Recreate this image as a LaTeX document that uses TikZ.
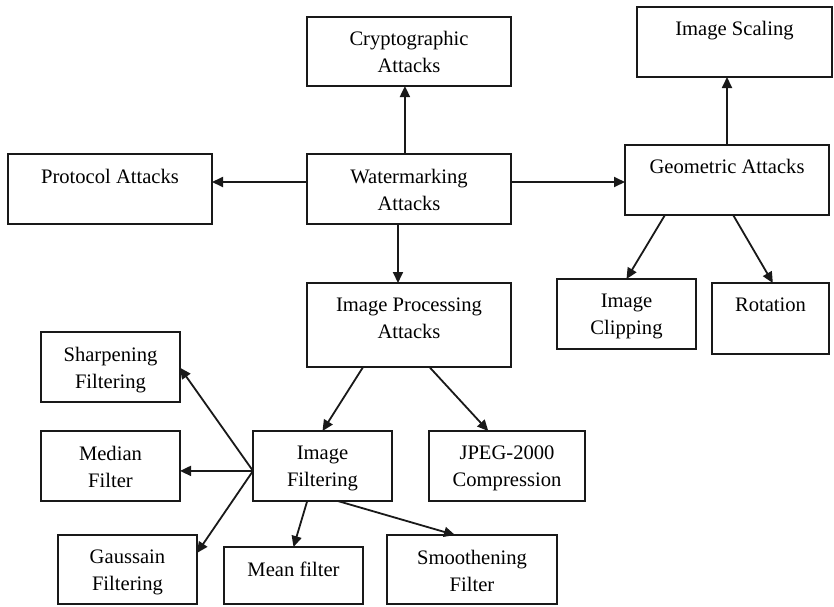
\documentclass[tikz,border=0pt]{standalone}
\usepackage{fontspec}
\setmainfont{Liberation Serif}
\usetikzlibrary{arrows.meta,calc}
\begin{document}
\begin{tikzpicture}[x=1pt,y=-1pt,
  box/.style={draw=black!90,line width=1.3pt,rectangle},
  txt/.style={anchor=north,inner sep=0pt,align=center,
    font=\fontsize{20.6}{27}\selectfont,text=black},
  arr/.style={draw=black!90,line width=1.8pt,-{Triangle[length=11pt,width=10pt]}}]
\useasboundingbox (0,0) rectangle (834,606);

% a box given by its corners, with its text set near the top
\newcommand{\attackbox}[6]{%
  \draw[box] (#2,#3) rectangle (#4,#5);
  \coordinate (#1) at ($(#2,#3)!0.5!(#4,#5)$);
  \coordinate (#1-nw) at (#2,#3);
  \coordinate (#1-ne) at (#4,#3);
  \coordinate (#1-sw) at (#2,#5);
  \coordinate (#1-se) at (#4,#5);
  \node[txt] (#1-t) at ($($(#2,#3)!0.5!(#4,#3)$)+(0,14.5)$) {#6};
}

\attackbox{crypto}{307}{17}{511}{86}{Cryptographic\\Attacks}
\attackbox{scaling}{637}{7}{832}{77}{Image Scaling}
\attackbox{protocol}{8}{154}{212}{224}{Protocol Attacks}
\attackbox{water}{307}{154}{511}{224}{Watermarking\\Attacks}
\attackbox{geo}{625}{145}{829}{215}{Geometric Attacks}
\attackbox{imgproc}{307}{283}{511}{367}{Image Processing\\Attacks}
\attackbox{clip}{557}{279}{696}{349}{Image\\Clipping}
\attackbox{rot}{712}{283}{829}{354}{Rotation}
\attackbox{sharp}{41}{332}{180}{402}{Sharpening\\Filtering}
\attackbox{median}{41}{431}{180}{501}{Median\\Filter}
\attackbox{filt}{253}{431}{392}{501}{Image\\Filtering}
\attackbox{jpeg}{429}{431}{585}{501}{JPEG-2000\\Compression}
\attackbox{gauss}{58}{535}{197}{604}{Gaussain\\Filtering}
\attackbox{mean}{224}{547}{363}{604}{Mean filter}
\attackbox{smooth}{387}{535}{557}{604}{Smoothening\\Filter}

% points on the box borders where connectors meet
\coordinate (wU) at ($(water-nw)!0.48!(water-ne)$);
\coordinate (wS) at ($(water-nw)!0.4!(water-sw)$);
\coordinate (wE) at ($(water-ne)!0.4!(water-se)$);
\coordinate (wD) at ($(water-sw)!0.446!(water-se)$);
\coordinate (gU) at ($(geo-nw)!0.5!(geo-ne)$);
\coordinate (gL) at ($(geo-sw)!0.196!(geo-se)$);
\coordinate (gR) at ($(geo-sw)!0.53!(geo-se)$);
\coordinate (pL) at ($(imgproc-sw)!0.275!(imgproc-se)$);
\coordinate (pR) at ($(imgproc-sw)!0.6!(imgproc-se)$);
\coordinate (fW) at ($(filt-nw)!0.57!(filt-sw)$);
\coordinate (fL) at ($(filt-sw)!0.39!(filt-se)$);
\coordinate (fR) at ($(filt-sw)!0.61!(filt-se)$);

\draw[arr] (wU) -- (wU |- crypto-sw);
\draw[arr] (wS) -- (wS -| protocol-ne);
\draw[arr] (wE) -- (wE -| geo-nw);
\draw[arr] (wD) -- (wD |- imgproc-nw);
\draw[arr] (gU) -- (gU |- scaling-sw);
\draw[arr] (gL) -- ($(clip-nw)!0.5!(clip-ne)$);
\draw[arr] (gR) -- ($(rot-nw)!0.52!(rot-ne)$);
\draw[arr] (pL) -- ($(filt-nw)!0.5!(filt-ne)$);
\draw[arr] (pR) -- ($(jpeg-nw)!0.38!(jpeg-ne)$);
\draw[arr] (fW) -- ($(sharp-ne)!0.51!(sharp-se)$);
\draw[arr] (fW) -- (fW -| median-ne);
\draw[arr] (fW) -- ($(gauss-ne)!0.26!(gauss-se)$);
\draw[arr] (fL) -- ($(mean-nw)!0.5!(mean-ne)$);
\draw[arr] (fR) -- ($(smooth-nw)!0.4!(smooth-ne)$);
\end{tikzpicture}
\end{document}
